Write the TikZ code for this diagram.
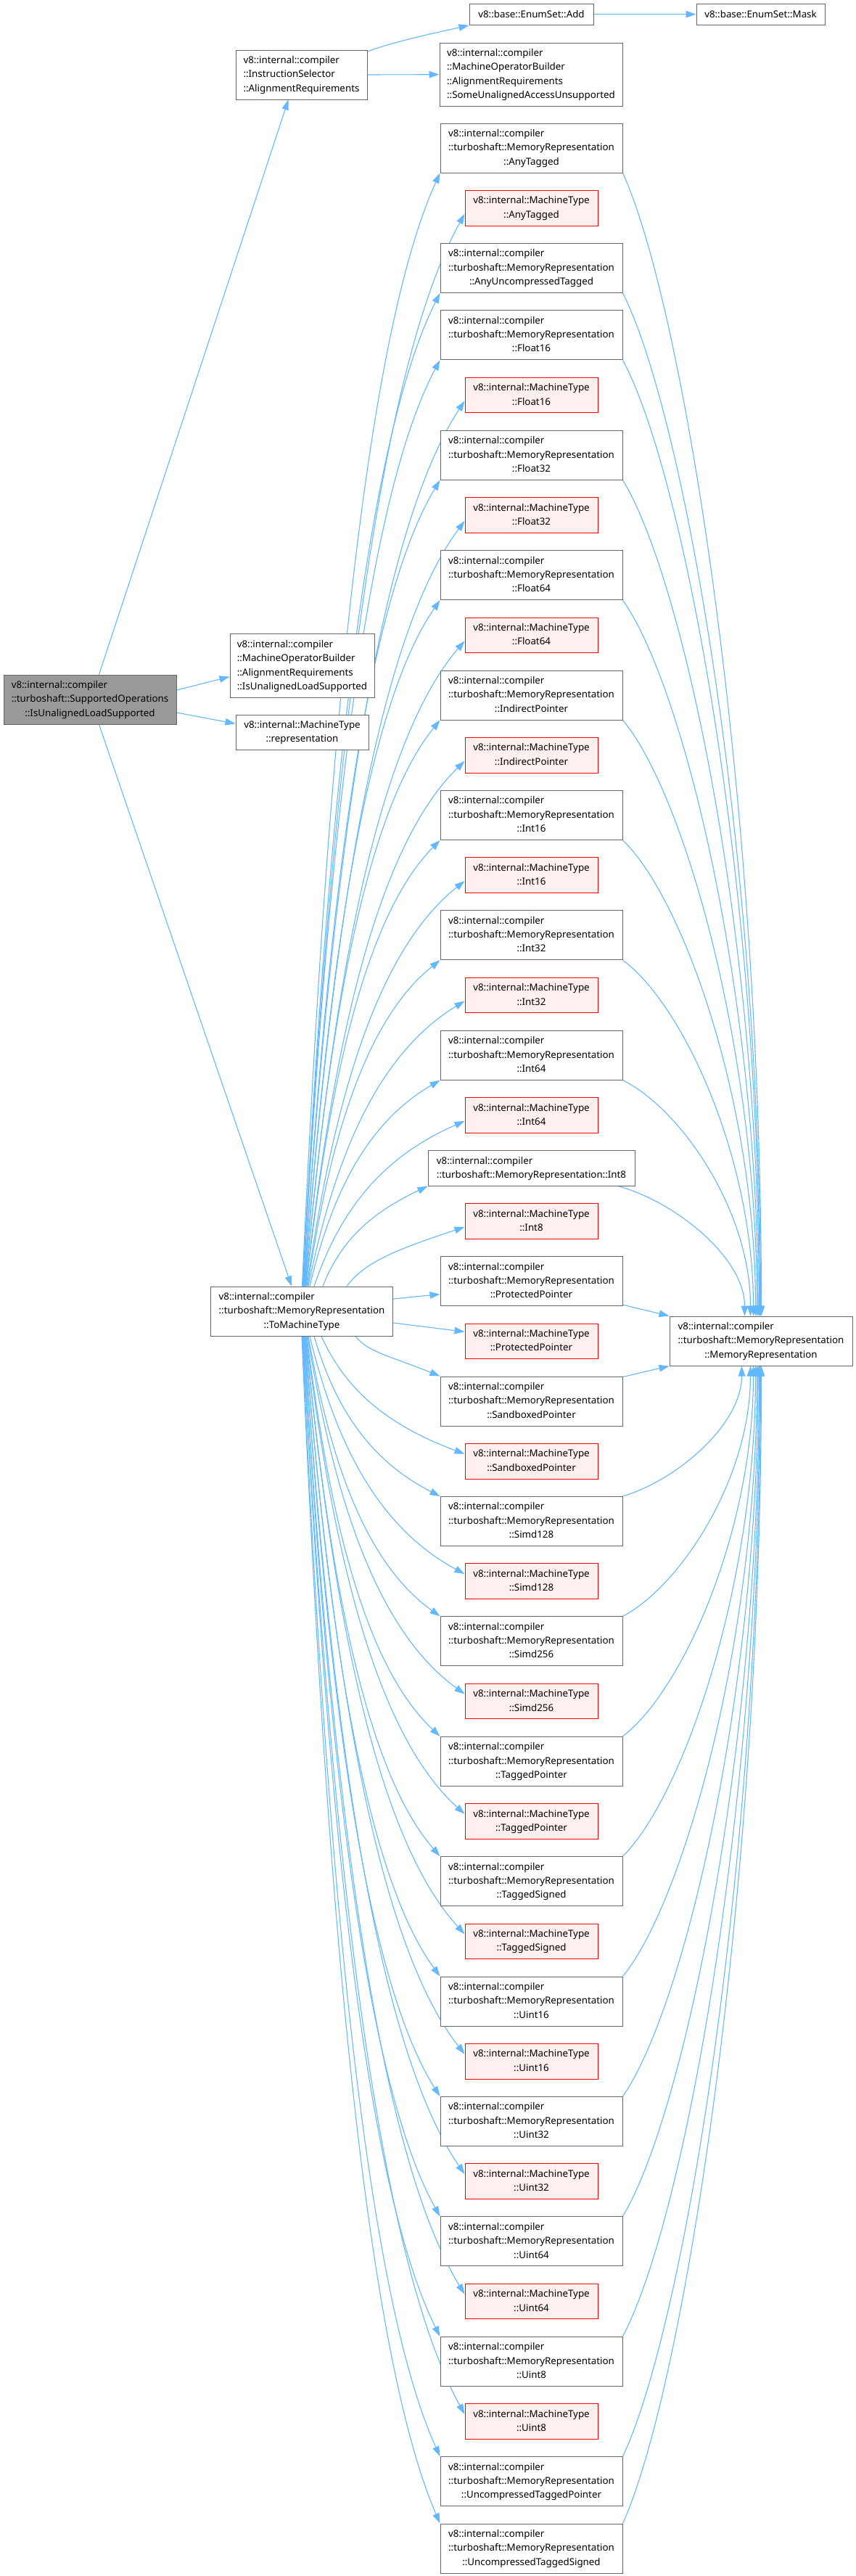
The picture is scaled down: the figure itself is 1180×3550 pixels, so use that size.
\documentclass[tikz,border=0pt]{standalone}
\usepackage{fontspec}
\setmainfont{Noto Sans}
\usetikzlibrary{arrows.meta,calc}
\definecolor{edgeblue}{HTML}{63B8FF}
\definecolor{boxgray}{HTML}{666666}
\definecolor{redfill}{HTML}{FFF0F0}
\definecolor{rootfill}{HTML}{999999}
\pgfdeclarelayer{bg}
\pgfsetlayers{bg,main}
\newcommand\Ltwo[2]{\begin{tabular}{@{}l@{}}#1\\\multicolumn{1}{@{}c@{}}{#2}\end{tabular}}
\newcommand\Lthree[3]{\begin{tabular}{@{}l@{}}#1\\#2\\\multicolumn{1}{@{}c@{}}{#3}\end{tabular}}
\newcommand\Lfour[4]{\begin{tabular}{@{}l@{}}#1\\#2\\#3\\\multicolumn{1}{@{}c@{}}{#4}\end{tabular}}
\newcommand\MR[1]{\Lthree{v8::internal::compiler}{::turboshaft::MemoryRepresentation}{::#1}}
\newcommand\MT[1]{\Ltwo{v8::internal::MachineType}{::#1}}
\newcommand\fanup[2]{\draw[edge] let \p1=(#1), \p2=(#2) in (\p1) .. controls ({\x1+0.15*(\x2-\x1)}, {\y1+0.4*(\y2-\y1)}) and ({\x2-0.6*(\x2-\x1)}, {\y2-0.15*(\y2-\y1)-20pt}) .. (\p2);}
\newcommand\fandown[2]{\draw[edge] let \p1=(#1), \p2=(#2) in (\p1) .. controls ({\x1+0.15*(\x2-\x1)}, {\y1+0.4*(\y2-\y1)}) and ({\x2-0.6*(\x2-\x1)}, {\y2-0.15*(\y2-\y1)+20pt}) .. (\p2);}
\newcommand\tomm[2]{\draw[edge] let \p1=(#1), \p2=(#2) in (\p1) .. controls ({\x1+0.45*(\x2-\x1)}, {\y1+0.12*(\y2-\y1)}) and (\x2, {\y2-0.45*(\y2-\y1)}) .. (\p2);}
\begin{document}
\begin{tikzpicture}[x=1pt,y=-1pt,
  every node/.style={font=\fontsize{13.33}{19.3}\selectfont, inner sep=0pt},
  box/.style={draw=boxgray, line width=1pt, fill=white},
  mrbox/.style={box, minimum width=251pt, minimum height=68pt},
  mtbox/.style={draw=red, line width=1pt, fill=redfill, minimum width=183pt, minimum height=48.6pt},
  edge/.style={draw=edgeblue, line width=1.1pt, -{Triangle[length=14pt,width=9.5pt]}}]
\useasboundingbox (0,0) rectangle (1180,3550);
\begin{pgfonlayer}{bg}
\fill[white] (0,0) rectangle (1180,3550);
\end{pgfonlayer}

% rank 0
\node[box, fill=rootfill, minimum width=238pt, minimum height=68pt] (main) at (124,964)
  {\Lthree{v8::internal::compiler}{::turboshaft::SupportedOperations}{::IsUnalignedLoadSupported}};
% rank 1
\node[box, minimum width=181pt, minimum height=68pt] (is) at (415.5,103)
  {\Lthree{v8::internal::compiler}{::InstructionSelector}{::AlignmentRequirements}};
\node[box, minimum width=199pt, minimum height=87.3pt] (mob) at (416.5,917.6)
  {\Lfour{v8::internal::compiler}{::MachineOperatorBuilder}{::AlignmentRequirements}{::IsUnalignedLoadSupported}};
\node[box, minimum width=183pt, minimum height=48.6pt] (rep) at (416.5,1009.3)
  {\Ltwo{v8::internal::MachineType}{::representation}};
\node[mrbox] (tmt) at (416,1807) {\MR{ToMachineType}};
% rank 2
\node[box, minimum width=171pt, minimum height=29.4pt] (add) at (732.5,19.7) {v8::base::EnumSet::Add};
\node[box, minimum width=252pt, minimum height=87.3pt] (su) at (732,102.7)
  {\Lfour{v8::internal::compiler}{::MachineOperatorBuilder}{::AlignmentRequirements}{::SomeUnalignedAccessUnsupported}};
\node[mrbox] (mrAnyTagged) at (732.5,204) {\MR{AnyTagged}};
\node[mtbox] (mtAnyTagged) at (732.5,286.7) {\MT{AnyTagged}};
\node[mrbox] (mrAnyUncompressedTagged) at (732.5,369.4) {\MR{AnyUncompressedTagged}};
\node[mrbox] (mrFloat16) at (732.5,461.8) {\MR{Float16}};
\node[mtbox] (mtFloat16) at (732.5,544.5) {\MT{Float16}};
\node[mrbox] (mrFloat32) at (732.5,627.2) {\MR{Float32}};
\node[mtbox] (mtFloat32) at (732.5,709.9) {\MT{Float32}};
\node[mrbox] (mrFloat64) at (732.5,792.6) {\MR{Float64}};
\node[mtbox] (mtFloat64) at (732.5,875.3) {\MT{Float64}};
\node[mrbox] (mrIndirectPointer) at (732.5,958) {\MR{IndirectPointer}};
\node[mtbox] (mtIndirectPointer) at (732.5,1040.7) {\MT{IndirectPointer}};
\node[mrbox] (mrInt16) at (732.5,1123.4) {\MR{Int16}};
\node[mtbox] (mtInt16) at (732.5,1206.1) {\MT{Int16}};
\node[mrbox] (mrInt32) at (732.5,1288.8) {\MR{Int32}};
\node[mtbox] (mtInt32) at (732.5,1371.5) {\MT{Int32}};
\node[mrbox] (mrInt64) at (732.5,1454.2) {\MR{Int64}};
\node[mtbox] (mtInt64) at (732.5,1536.9) {\MT{Int64}};
\node[box, minimum width=285pt, minimum height=48.6pt] (mrInt8) at (732.5,1609.9)
  {\Ltwo{v8::internal::compiler}{::turboshaft::MemoryRepresentation::Int8}};
\node[mtbox] (mtInt8) at (732.5,1682.9) {\MT{Int8}};
\node[mrbox] (mrProtectedPointer) at (732.5,1765.6) {\MR{ProtectedPointer}};
\node[mtbox] (mtProtectedPointer) at (732.5,1848.3) {\MT{ProtectedPointer}};
\node[mrbox] (mrSandboxedPointer) at (732.5,1931) {\MR{SandboxedPointer}};
\node[mtbox] (mtSandboxedPointer) at (732.5,2013.7) {\MT{SandboxedPointer}};
\node[mrbox] (mrSimd128) at (732.5,2096.4) {\MR{Simd128}};
\node[mtbox] (mtSimd128) at (732.5,2179.1) {\MT{Simd128}};
\node[mrbox] (mrSimd256) at (732.5,2261.8) {\MR{Simd256}};
\node[mtbox] (mtSimd256) at (732.5,2344.5) {\MT{Simd256}};
\node[mrbox] (mrTaggedPointer) at (732.5,2427.2) {\MR{TaggedPointer}};
\node[mtbox] (mtTaggedPointer) at (732.5,2509.9) {\MT{TaggedPointer}};
\node[mrbox] (mrTaggedSigned) at (732.5,2592.6) {\MR{TaggedSigned}};
\node[mtbox] (mtTaggedSigned) at (732.5,2675.3) {\MT{TaggedSigned}};
\node[mrbox] (mrUint16) at (732.5,2758) {\MR{Uint16}};
\node[mtbox] (mtUint16) at (732.5,2840.7) {\MT{Uint16}};
\node[mrbox] (mrUint32) at (732.5,2923.4) {\MR{Uint32}};
\node[mtbox] (mtUint32) at (732.5,3006.1) {\MT{Uint32}};
\node[mrbox] (mrUint64) at (732.5,3088.8) {\MR{Uint64}};
\node[mtbox] (mtUint64) at (732.5,3171.5) {\MT{Uint64}};
\node[mrbox] (mrUint8) at (732.5,3254.2) {\MR{Uint8}};
\node[mtbox] (mtUint8) at (732.5,3336.9) {\MT{Uint8}};
\node[mrbox] (mrUncompressedTaggedPointer) at (732.5,3419.6) {\MR{UncompressedTaggedPointer}};
\node[mrbox] (mrUncompressedTaggedSigned) at (732.5,3512) {\MR{UncompressedTaggedSigned}};
% rank 3
\node[box, minimum width=177pt, minimum height=29.4pt] (mask) at (1048.5,19.7) {v8::base::EnumSet::Mask};
\node[mrbox, minimum width=252pt] (mm) at (1049,1848) {\MR{MemoryRepresentation}};

\begin{pgfonlayer}{bg}
% root edges
\draw[edge] ([xshift=132pt]main.north west) -- ([xshift=73pt]is.south west);
\draw[edge] ([yshift=13pt]main.east) -- ([yshift=-15pt]mob.west);
\draw[edge] ([yshift=-18pt]main.east) -- ([yshift=12pt]rep.west);
\draw[edge] ([xshift=132pt]main.south west) -- ([xshift=112pt]tmt.north west);
% instruction selector
\draw[edge] ([yshift=32pt]is.east) .. controls +(40pt,15pt) and +(-35pt,-8pt) .. (add.south west);
\draw[edge] (is.east) -- (su.west);
\draw[edge] (add.east) -- (mask.west);
% ToMachineType fan
\foreach \nd/\o in {mrInt8/155, mrInt64/137, mrInt32/134, mrInt16/132, mrIndirectPointer/131, mrFloat64/130, mrFloat32/129, mrFloat16/128, mrAnyUncompressedTagged/127.5, mrAnyTagged/126.5}
  {\fanup{[xshift=\o pt]tmt.north west}{\nd.south west}}
\foreach \nd/\o in {mtInt8/188, mtInt64/143, mtInt32/135, mtInt16/133, mtIndirectPointer/131.5, mtFloat64/130.5, mtFloat32/129.5, mtFloat16/128.5, mtAnyTagged/127}
  {\fanup{[xshift=\o pt]tmt.north west}{[yshift=-8pt]\nd.west}}
\foreach \nd/\o in {mrSandboxedPointer/200, mrSimd128/143, mrSimd256/135, mrTaggedPointer/133, mrTaggedSigned/131.5, mrUint16/130.5, mrUint32/129.5, mrUint64/128.5, mrUint8/127.5, mrUncompressedTaggedPointer/126.5, mrUncompressedTaggedSigned/126}
  {\fandown{[xshift=\o pt]tmt.south west}{\nd.north west}}
\foreach \nd/\o in {mtSandboxedPointer/153, mtSimd128/137, mtSimd256/134, mtTaggedPointer/132, mtTaggedSigned/131, mtUint16/130, mtUint32/129, mtUint64/128, mtUint8/127}
  {\fandown{[xshift=\o pt]tmt.south west}{[yshift=10pt]\nd.west}}
\draw[edge] ([yshift=17pt]tmt.east) -- ([yshift=-18pt]mrProtectedPointer.west);
\draw[edge] ([yshift=-16pt]tmt.east) -- ([yshift=13pt]mtProtectedPointer.west);
% MemoryRepresentation constructor
\tomm{[xshift=-23pt]mrInt8.south east}{[xshift=104pt]mm.north west}
\foreach \nd/\o in {mrInt64/112, mrInt32/116, mrInt16/119, mrIndirectPointer/121, mrFloat64/122.5, mrFloat32/124, mrFloat16/125, mrAnyUncompressedTagged/126, mrAnyTagged/127}
  {\tomm{\nd.south east}{[xshift=\o pt]mm.north west}}
\foreach \nd/\o in {mrSimd128/100, mrSimd256/112, mrTaggedPointer/116, mrTaggedSigned/119, mrUint16/121, mrUint32/122.5, mrUint64/124, mrUint8/125, mrUncompressedTaggedPointer/126, mrUncompressedTaggedSigned/127}
  {\tomm{\nd.north east}{[xshift=\o pt]mm.south west}}
\draw[edge] ([yshift=2pt]mrProtectedPointer.south east) -- (mm.north west);
\draw[edge] ([yshift=-1pt]mrSandboxedPointer.north east) -- (mm.south west);
\end{pgfonlayer}
\end{tikzpicture}
\end{document}
